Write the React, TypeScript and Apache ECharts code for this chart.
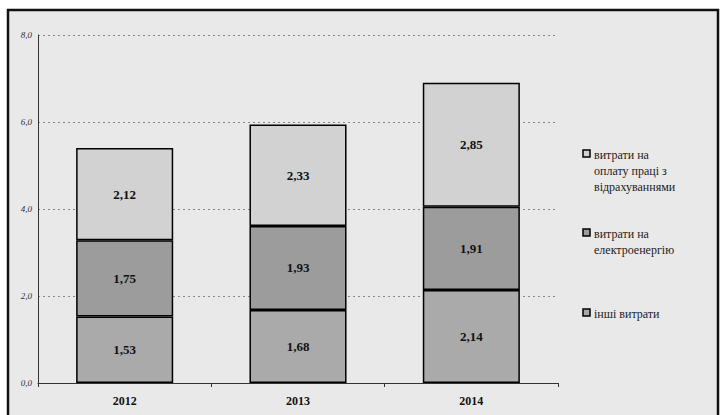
import React, { useEffect, useRef } from "react";
import * as echarts from "echarts";

const years = ["2012", "2013", "2014"];
const otherCosts = [1.53, 1.68, 2.14];
const electricity = [1.75, 1.93, 1.91];
const labour = [2.12, 2.33, 2.85];
const totals = [5.4, 5.94, 6.9];
const yTicks = [0, 2, 4, 6, 8];

const legendItems = [
  { lines: ["витрати на", "оплату праці з", "відрахуваннями"], color: "#d2d2d2" },
  { lines: ["витрати на", "електроенергію"], color: "#9c9c9c" },
  { lines: ["інші витрати"], color: "#aaaaaa" },
];

const fmt = (v: number) => v.toFixed(2).replace(".", ",");
const SERIF = "Times New Roman, serif";

export default function App() {
  const ref = useRef<HTMLDivElement>(null);
  useEffect(() => {
    if (!ref.current) return;
    const chart = echarts.init(ref.current, null, { renderer: "svg" });
    const segLabel = {
      show: true,
      position: "inside",
      fontFamily: SERIF,
      fontWeight: "bold",
      fontSize: 13,
      color: "#111",
      formatter: (p: any) => fmt(p.value),
    };
    const legendGraphics: any[] = [];
    const legendTops = [147, 226, 306];
    legendItems.forEach((it, i) => {
      legendGraphics.push({
        type: "rect",
        shape: { x: 583, y: legendTops[i] + 3, width: 7, height: 7 },
        style: { fill: it.color, stroke: "#000", lineWidth: 1.5 },
      });
      legendGraphics.push({
        type: "text",
        x: 594,
        y: legendTops[i],
        style: {
          text: it.lines.join("\n"),
          fontFamily: SERIF,
          fontSize: 12,
          lineHeight: 16,
          fill: "#222",
        },
      });
    });
    chart.setOption({
      animation: false,
      backgroundColor: "#ffffff",
      graphic: [
        {
          type: "rect",
          z: -10,
          shape: { x: 8, y: 10, width: 710, height: 420 },
          style: { fill: "#e9e9e9", stroke: "#111", lineWidth: 2.5 },
        },
        ...legendGraphics,
      ],
      grid: { left: 38, right: 163, top: 35, bottom: 32 },
      xAxis: {
        type: "category",
        data: years,
        axisLine: { lineStyle: { color: "#333", width: 1 } },
        axisTick: { show: true, length: 4, lineStyle: { color: "#333" } },
        axisLabel: {
          fontFamily: SERIF,
          fontWeight: "bold",
          fontSize: 12,
          color: "#111",
          margin: 12,
        },
      },
      yAxis: {
        type: "value",
        min: yTicks[0],
        max: yTicks[yTicks.length - 1],
        interval: 2,
        axisLine: { show: true, lineStyle: { color: "#333", width: 1 } },
        axisTick: { show: false },
        splitLine: { lineStyle: { color: "#888", type: [2, 3], width: 1 } },
        axisLabel: {
          fontFamily: SERIF,
          fontStyle: "italic",
          fontSize: 9,
          color: "#333",
          margin: 6,
          formatter: (v: number) => v.toFixed(1).replace(".", ","),
        },
      },
      series: [
        {
          name: "інші витрати",
          type: "bar",
          stack: "t",
          barWidth: "56%",
          data: otherCosts,
          itemStyle: { color: "#aaaaaa", borderColor: "#000", borderWidth: 1.5 },
          label: segLabel,
        },
        {
          name: "витрати на електроенергію",
          type: "bar",
          stack: "t",
          data: electricity,
          itemStyle: { color: "#9c9c9c", borderColor: "#000", borderWidth: 1.5 },
          label: segLabel,
        },
        {
          name: "витрати на оплату праці з відрахуваннями",
          type: "bar",
          stack: "t",
          data: labour,
          itemStyle: { color: "#d2d2d2", borderColor: "#000", borderWidth: 1.5 },
          label: segLabel,
        },
        {
          name: "total",
          type: "scatter",
          data: totals,
          symbolSize: 0,
          itemStyle: { opacity: 0 },
          label: {
            show: true,
            position: "top",
            distance: 8,
            fontFamily: SERIF,
            fontSize: 14,
            color: "#111",
            formatter: (p: any) => fmt(p.value) + " грн/м³",
          },
        },
      ],
    });
    return () => chart.dispose();
  }, []);
  return (
    <div
      ref={ref}
      style={{ position: "fixed", left: 0, top: 0, width: 721, height: 415 }}
    />
  );
}
